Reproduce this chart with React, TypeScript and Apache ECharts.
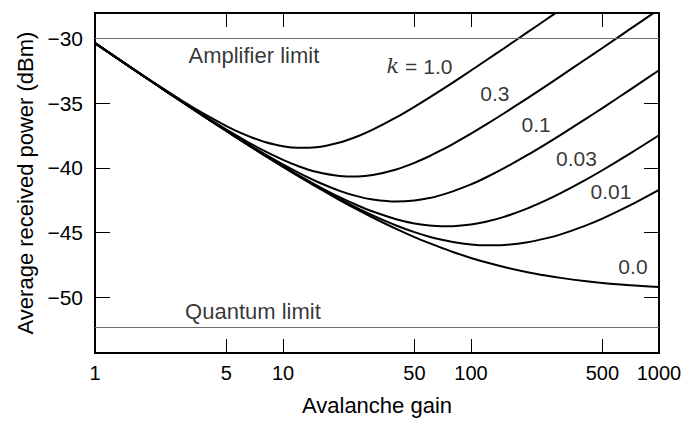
import React, { useEffect, useRef } from 'react';
import * as echarts from 'echarts';

// Avalanche gain sample points
const gains = [1, 1.5, 2, 3, 4, 5, 6, 7, 8, 10, 12, 15, 20, 25, 30, 40, 50, 60, 70, 80, 100, 120, 150, 200, 250, 300, 400, 500, 700, 1000];

// Average received power (dBm) read for each ionization ratio k
const k00 = [-30.38, -32.11, -33.34, -35.05, -36.25, -37.16, -37.91, -38.53, -39.06, -39.93, -40.63, -41.46, -42.49, -43.25, -43.84, -44.72, -45.35, -45.82, -46.19, -46.50, -46.96, -47.30, -47.66, -48.06, -48.32, -48.50, -48.74, -48.89, -49.07, -49.21];
const k001 = [-30.38, -32.11, -33.34, -35.05, -36.24, -37.16, -37.90, -38.52, -39.05, -39.91, -40.60, -41.42, -42.41, -43.14, -43.68, -44.46, -44.97, -45.32, -45.56, -45.73, -45.92, -45.99, -45.96, -45.75, -45.45, -45.14, -44.50, -43.92, -42.91, -41.71];
const k003 = [-30.38, -32.11, -33.34, -35.04, -36.24, -37.15, -37.89, -38.50, -39.02, -39.87, -40.55, -41.33, -42.27, -42.91, -43.38, -43.97, -44.30, -44.46, -44.52, -44.51, -44.38, -44.17, -43.79, -43.13, -42.52, -41.96, -40.99, -40.19, -38.91, -37.49];
const k01 = [-30.38, -32.11, -33.34, -35.04, -36.22, -37.12, -37.84, -38.44, -38.94, -39.74, -40.36, -41.04, -41.78, -42.21, -42.45, -42.61, -42.53, -42.34, -42.09, -41.82, -41.28, -40.75, -40.03, -39.01, -38.17, -37.46, -36.30, -35.39, -33.98, -32.47];
const k03 = [-30.38, -32.11, -33.33, -35.02, -36.18, -37.05, -37.72, -38.27, -38.72, -39.39, -39.86, -40.31, -40.63, -40.67, -40.56, -40.13, -39.62, -39.11, -38.62, -38.17, -37.37, -36.67, -35.79, -34.62, -33.69, -32.92, -31.70, -30.75, -29.30, -27.76];
const k10 = [-30.38, -32.11, -33.31, -34.95, -36.02, -36.78, -37.33, -37.72, -38.01, -38.34, -38.46, -38.42, -38.05, -37.57, -37.06, -36.11, -35.29, -34.58, -33.96, -33.42, -32.49, -31.72, -30.77, -29.53, -28.57, -27.78, -26.53, -25.57, -24.10, -22.56];

const seriesNames = ['0.0', '0.01', '0.03', '0.1', '0.3', '1.0'];
const seriesValues = [k00, k001, k003, k01, k03, k10];

// Limit lines (dBm)
const limitNames = ['Amplifier limit', 'Quantum limit'];
const limitValues = [-30, -52.3];

// Tick values
const xTicks = [1, 5, 10, 50, 100, 500, 1000];
const yTicks = [-50, -45, -40, -35, -30];

// Text annotations: [gain, power, text]
const labelGains = [53.2, 134, 222, 364, 555, 727, 7.0, 6.92];
const labelPowers = [-32.16, -34.27, -36.65, -39.26, -41.83, -47.63, -31.36, -51.08];
const labelTexts = ['{k|k} = 1.0', '0.3', '0.1', '0.03', '0.01', '0.0', '{t|Amplifier limit}', '{t|Quantum limit}'];

const FONT = '"Liberation Sans", Arial, Helvetica, sans-serif';

export default function App() {
  const ref = useRef<HTMLDivElement>(null);
  useEffect(() => {
    if (!ref.current) return;
    const chart = echarts.init(ref.current, undefined, { renderer: 'svg' });
    const fmtY = (v: number) => (v < 0 ? '\u2212' : '') + Math.abs(v);
    const axisLine = { show: true, lineStyle: { color: '#000', width: 2 } };
    const tickStyle = { color: '#000', width: 1 };
    const option: any = {
      animation: false,
      backgroundColor: '#fff',
      grid: { left: 95, right: 26, top: 13, bottom: 66, containLabel: false },
      xAxis: [
        {
          type: 'log',
          logBase: 10,
          min: 1,
          max: 1000,
          position: 'bottom',
          name: 'Avalanche gain',
          nameLocation: 'middle',
          nameGap: 41,
          nameTextStyle: { fontSize: 22, color: '#000', fontFamily: FONT },
          axisLine,
          axisTick: { show: true, inside: true, length: 14, lineStyle: tickStyle, customValues: xTicks },
          minorTick: { show: false },
          axisLabel: { show: true, customValues: xTicks, margin: 10, fontSize: 20, color: '#000', fontFamily: FONT, formatter: (v: number) => String(v) },
          splitLine: { show: false },
        },
        {
          type: 'log',
          logBase: 10,
          min: 1,
          max: 1000,
          position: 'top',
          axisLine,
          axisTick: { show: true, inside: true, length: 14, lineStyle: tickStyle, customValues: xTicks },
          axisLabel: { show: false },
          splitLine: { show: false },
        },
      ],
      yAxis: [
        {
          type: 'value',
          min: -54.3,
          max: -28.05,
          position: 'left',
          name: 'Average received power (dBm)',
          nameLocation: 'middle',
          nameGap: 59,
          nameTextStyle: { fontSize: 22, color: '#000', fontFamily: FONT },
          axisLine,
          axisTick: { show: true, inside: true, length: 15, lineStyle: tickStyle, customValues: yTicks },
          axisLabel: { show: true, customValues: yTicks, margin: 12, fontSize: 21, color: '#000', fontFamily: FONT, formatter: fmtY },
          splitLine: { show: false },
        },
        {
          type: 'value',
          min: -54.3,
          max: -28.05,
          position: 'right',
          axisLine,
          axisTick: { show: true, inside: true, length: 15, lineStyle: tickStyle, customValues: yTicks },
          axisLabel: { show: false },
          splitLine: { show: false },
        },
      ],
      series: [
        ...seriesValues.map((vals, si) => ({
          name: seriesNames[si],
          type: 'line',
          xAxisIndex: 0,
          yAxisIndex: 0,
          data: gains.map((g, i) => [g, vals[i]]),
          smooth: 0.3,
          showSymbol: false,
          symbol: 'none',
          clip: true,
          silent: true,
          lineStyle: { color: '#000', width: 2 },
          z: 3,
          markLine:
            si === 0
              ? {
                  silent: true,
                  symbol: 'none',
                  label: { show: false },
                  lineStyle: { color: '#6e6e6e', width: 1.2, type: 'solid' },
                  data: limitValues.map((v, li) => ({ name: limitNames[li], yAxis: v })),
                }
              : undefined,
        })),
        {
          name: 'labels',
          type: 'scatter',
          silent: true,
          symbol: 'circle',
          symbolSize: 1,
          itemStyle: { color: 'rgba(0,0,0,0)' },
          data: labelGains.map((g, i) => ({ value: [g, labelPowers[i]], name: labelTexts[i] })),
          label: {
            show: true,
            position: 'inside',
            formatter: (p: any) => p.name,
            fontSize: 21,
            color: '#000',
            fontFamily: FONT,
            rich: {
              k: { fontSize: 21, fontStyle: 'italic', fontFamily: '"DejaVu Serif", "Liberation Serif", serif', color: '#000' },
              t: { fontSize: 22, color: '#000', fontFamily: FONT },
            },
          },
          z: 5,
        },
      ],
    };
    chart.setOption(option);
    return () => chart.dispose();
  }, []);
  return <div ref={ref} style={{ position: 'absolute', left: 0, top: 0, width: 685, height: 421, background: '#fff' }} />;
}
